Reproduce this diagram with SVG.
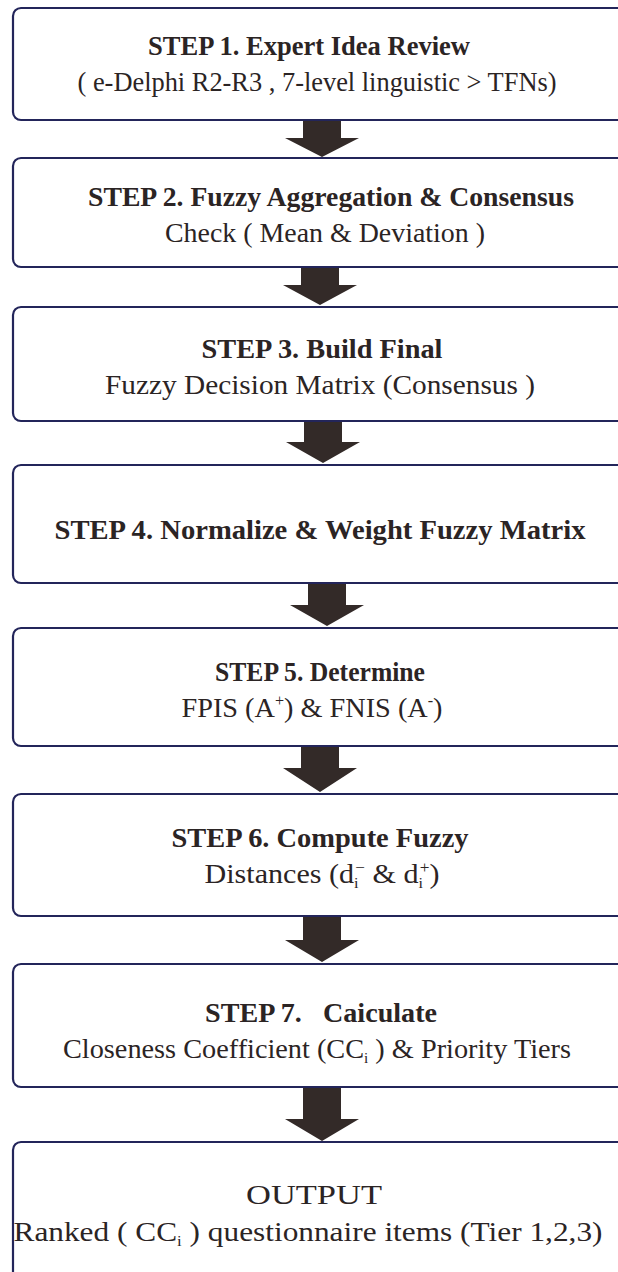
<svg xmlns="http://www.w3.org/2000/svg" width="618" height="1272" viewBox="0 0 618 1272">
<style>
.box{fill:#fff;stroke:#23255a;stroke-width:2.2}
.arr{fill:#332a28}
text{font-family:"Liberation Serif","DejaVu Serif",serif;fill:#2b2424;text-anchor:middle;font-size:28px}
.t{font-weight:bold}
</style>
<rect width="618" height="1272" fill="#fff"/>
<g id="connectors">
<polygon class="arr" points="303,121 341,121 341,138 359,138 322,157 285,138 303,138"/>
<polygon class="arr" points="301,268 339,268 339,285 357,285 320,305 283,285 301,285"/>
<polygon class="arr" points="304,422 342,422 342,442 360,442 323,463 286,442 304,442"/>
<polygon class="arr" points="308,584 346,584 346,605 364,605 327,626 290,605 308,605"/>
<polygon class="arr" points="301,746 339,746 339,768 357,768 320,792 283,768 301,768"/>
<polygon class="arr" points="303,917 341,917 341,940 359,940 322,962 285,940 303,940"/>
<polygon class="arr" points="303,1088 341,1088 341,1119 359,1119 322,1141 285,1119 303,1119"/>
</g>
<g id="step1"><rect class="box" x="13" y="8" width="620" height="112" rx="8"/>
<text class="t" x="309" y="55" textLength="322" lengthAdjust="spacingAndGlyphs">STEP 1. Expert Idea Review</text>
<text x="317" y="91" textLength="479" lengthAdjust="spacingAndGlyphs">( e-Delphi R2-R3 , 7-level linguistic  &gt; TFNs)</text></g>
<g id="step2"><rect class="box" x="13" y="158" width="620" height="109" rx="8"/>
<text class="t" x="331" y="206" textLength="486" lengthAdjust="spacingAndGlyphs">STEP 2. Fuzzy Aggregation &amp; Consensus</text>
<text x="325" y="242" textLength="320" lengthAdjust="spacingAndGlyphs">Check ( Mean &amp; Deviation )</text></g>
<g id="step3"><rect class="box" x="13" y="307" width="620" height="114" rx="8"/>
<text class="t" x="322" y="358" textLength="241" lengthAdjust="spacingAndGlyphs">STEP 3. Build Final</text>
<text x="320" y="394" textLength="430" lengthAdjust="spacingAndGlyphs">Fuzzy Decision Matrix (Consensus )</text></g>
<g id="step4"><rect class="box" x="13" y="465" width="620" height="118" rx="8"/>
<text class="t" x="320" y="539" textLength="531" lengthAdjust="spacingAndGlyphs">STEP 4. Normalize &amp; Weight Fuzzy Matrix</text></g>
<g id="step5"><rect class="box" x="13" y="628" width="620" height="118" rx="8"/>
<text class="t" x="320" y="681" textLength="210" lengthAdjust="spacingAndGlyphs">STEP 5. Determine</text>
<text x="312" y="717" textLength="261" lengthAdjust="spacingAndGlyphs">FPIS (A<tspan font-size="16" dy="-11">+</tspan><tspan dy="11">) &amp; FNIS (A</tspan><tspan font-size="16" dy="-11">-</tspan><tspan dy="11">)</tspan></text></g>
<g id="step6"><rect class="box" x="13" y="794" width="620" height="122" rx="8"/>
<text class="t" x="320" y="847" textLength="297" lengthAdjust="spacingAndGlyphs">STEP 6. Compute Fuzzy</text>
<text x="322" y="883" textLength="235" lengthAdjust="spacingAndGlyphs">Distances (d<tspan font-size="15" dy="5">i</tspan><tspan font-size="16" dx="-3" dy="-15">−</tspan><tspan dy="10"> &amp; d</tspan><tspan font-size="15" dy="5">i</tspan><tspan font-size="16" dx="-3" dy="-15">+</tspan><tspan dy="10">)</tspan></text></g>
<g id="step7"><rect class="box" x="13" y="964" width="620" height="123" rx="8"/>
<text class="t" x="321" y="1022" xml:space="preserve" textLength="232" lengthAdjust="spacingAndGlyphs">STEP 7.   Caiculate</text>
<text x="317" y="1058" textLength="508" lengthAdjust="spacingAndGlyphs">Closeness Coefficient (CC<tspan font-size="15" dy="5">i</tspan><tspan dy="-5"> ) &amp; Priority Tiers</tspan></text></g>
<g id="output"><rect class="box" x="13" y="1142" width="620" height="150" rx="8"/>
<text x="314" y="1204" textLength="136" lengthAdjust="spacingAndGlyphs">OUTPUT</text>
<text x="308" y="1241" textLength="589" lengthAdjust="spacingAndGlyphs">Ranked ( CC<tspan font-size="15" dy="5">i</tspan><tspan dy="-5"> ) questionnaire items (Tier 1,2,3)</tspan></text></g>
</svg>
